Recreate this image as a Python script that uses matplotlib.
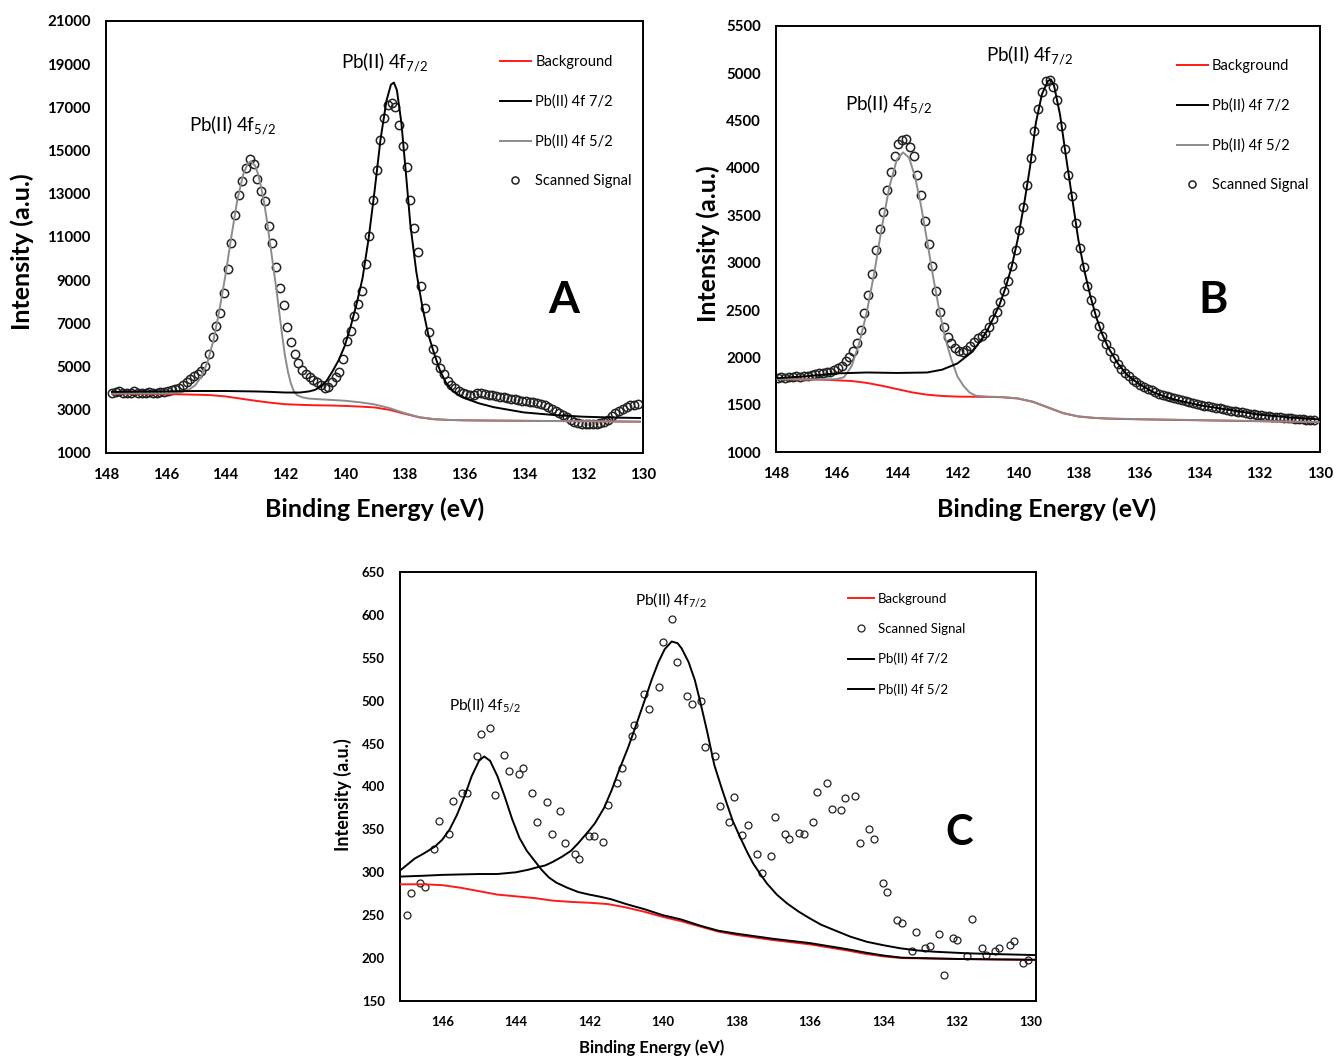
import matplotlib
matplotlib.use("Agg")
import matplotlib.pyplot as plt
import numpy as np

plt.rcParams['font.family'] = ['Lato', 'DejaVu Sans']
plt.rcParams['mathtext.default'] = 'regular'

RED = '#ff1a1a'
GRAY = '#8c8c8c'

# ---------------- panel A ----------------
energy_a = np.round(np.arange(147.8, 130.1, -0.125), 3)
signal_a = [3780, 3820, 3850, 3790, 3770, 3800, 3850, 3780, 3760, 3790,
            3820, 3800, 3780, 3810, 3840, 3870, 3900, 3950, 4030, 4150,
            4300, 4420, 4550, 4680, 4800, 5050, 5600, 6350, 6900, 7500,
            8400, 9500, 10700, 12000, 12950, 13600, 14200, 14600, 14400, 13700,
            13150, 12650, 11500, 10700, 9600, 8650, 7850, 6850, 6150, 5600,
            5150, 4850, 4650, 4500, 4380, 4300, 4150, 4000, 4050, 4300,
            4500, 4750, 5350, 6200, 6650, 7350, 7900, 8500, 9750, 11050,
            12700, 14100, 15500, 16500, 17100, 17200, 17000, 16200, 15200, 14250,
            12700, 11400, 10300, 8750, 7700, 6600, 5800, 5300, 4950, 4650,
            4350, 4150, 4000, 3880, 3780, 3720, 3680, 3700, 3760, 3780,
            3740, 3700, 3680, 3650, 3610, 3580, 3550, 3520, 3500, 3460,
            3430, 3400, 3380, 3350, 3300, 3250, 3200, 3120, 3050, 2950,
            2850, 2750, 2650, 2550, 2450, 2400, 2350, 2330, 2320, 2330,
            2350, 2380, 2450, 2550, 2700, 2850, 2950, 3050, 3150, 3200,
            3230, 3250]

bg_a_e = [147.8, 146, 145, 144.5, 144, 143.5, 143, 142.5, 142, 141.5, 141, 140.5,
          140, 139.5, 139, 138.5, 138, 137.5, 137, 136.5, 136, 134, 132, 130.1]
bg_a = [3750, 3730, 3700, 3680, 3620, 3520, 3420, 3330, 3260, 3230, 3210, 3200,
        3180, 3150, 3110, 3000, 2820, 2650, 2560, 2530, 2510, 2490, 2470, 2450]

p72_a_e = [147.8, 146, 145, 144, 143, 142.5, 142, 141.5, 141.2, 141.0, 140.8, 140.6,
           140.4, 140.2, 140.0, 139.8, 139.6, 139.4, 139.2, 139.0, 138.8, 138.6,
           138.45, 138.35, 138.25, 138.1, 137.95, 137.8, 137.6, 137.4, 137.2, 137.0,
           136.8, 136.6, 136.4, 136.2, 136.0, 135.5, 135, 134.5, 134, 133, 132, 131, 130.1]
p72_a = [3830, 3850, 3870, 3870, 3850, 3830, 3800, 3800, 3850, 3920, 4080, 4350,
         4800, 5300, 5950, 6850, 7900, 9100, 10900, 13100, 15500, 17300,
         18050, 18150, 17800, 16300, 14000, 11600, 9400, 7800, 6500, 5600,
         4800, 4250, 3900, 3700, 3550, 3300, 3120, 3000, 2880, 2760, 2680, 2640, 2620]

p52_a_e = [147.8, 146, 145.5, 145.2, 145.0, 144.8, 144.6, 144.4, 144.2, 144.0, 143.8,
           143.6, 143.4, 143.25, 143.15, 143.0, 142.9, 142.8, 142.7, 142.6, 142.5, 142.4,
           142.3, 142.2, 142.1, 142.0, 141.9, 141.8, 141.7, 141.6, 141.4, 141.2, 141.0,
           140.0, 139.5, 139.0, 138.5, 138.0, 137.5, 137.0, 136.5, 135, 133, 131, 130.1]
p52_a = [3760, 3760, 3800, 3950, 4150, 4550, 5200, 6200, 7600, 9200, 11000,
         12700, 13900, 14400, 14500, 14300, 13900, 13300, 12600, 11700, 10700, 9700,
         8700, 7600, 6500, 5500, 4750, 4200, 3850, 3680, 3570, 3520, 3500,
         3420, 3350, 3250, 3080, 2850, 2660, 2570, 2530, 2500, 2480, 2460, 2450]

# ---------------- panel B ----------------
energy_b = np.round(np.arange(147.95, 130.15, -0.125), 3)
signal_b = [1780, 1790, 1785, 1795, 1790, 1800, 1795, 1805, 1800, 1810,
            1820, 1830, 1835, 1845, 1850, 1865, 1885, 1910, 1960, 2000,
            2065, 2150, 2290, 2470, 2660, 2880, 3130, 3360, 3540, 3770,
            3960, 4130, 4250, 4300, 4310, 4220, 4130, 3930, 3720, 3440,
            3200, 2970, 2700, 2480, 2320, 2215, 2150, 2095, 2068, 2060,
            2075, 2115, 2165, 2205, 2225, 2260, 2320, 2410, 2480, 2580,
            2700, 2810, 2960, 3130, 3350, 3590, 3820, 4110, 4390, 4620,
            4800, 4915, 4930, 4860, 4720, 4440, 4200, 3930, 3700, 3420,
            3150, 2950, 2750, 2610, 2470, 2330, 2230, 2140, 2070, 1995,
            1930, 1880, 1835, 1800, 1765, 1735, 1710, 1690, 1670, 1650,
            1635, 1615, 1600, 1590, 1578, 1568, 1556, 1545, 1535, 1525,
            1515, 1505, 1498, 1490, 1482, 1475, 1468, 1460, 1452, 1445,
            1438, 1430, 1424, 1418, 1412, 1405, 1400, 1395, 1390, 1385,
            1380, 1375, 1370, 1366, 1362, 1358, 1355, 1352, 1348, 1345,
            1343, 1340, 1338]

bg_b_e = [147.95, 146.5, 145.5, 145, 144.5, 144, 143.5, 143, 142.5, 142, 141, 140.5,
          140, 139.5, 139, 138.5, 138, 137.5, 137, 136, 134, 132, 130.05]
bg_b = [1770, 1765, 1750, 1730, 1700, 1665, 1630, 1605, 1592, 1585, 1582, 1578,
        1565, 1530, 1470, 1410, 1375, 1360, 1352, 1345, 1335, 1325, 1315]

p72_b_e = [147.95, 147, 146, 145, 144, 143, 142.5, 142, 141.5, 141.2, 141, 140.8,
           140.6, 140.4, 140.2, 140.0, 139.8, 139.6, 139.4, 139.2, 139.0, 138.9,
           138.8, 138.6, 138.4, 138.2, 138.0, 137.8, 137.6, 137.4, 137.2, 137.0,
           136.7, 136.4, 136, 135.5, 135, 134.5, 134, 133, 132, 131, 130.05]
p72_b = [1780, 1800, 1830, 1840, 1835, 1840, 1870, 1935, 2060, 2190, 2290, 2420,
         2560, 2740, 2960, 3250, 3600, 4000, 4480, 4780, 4920, 4935,
         4870, 4560, 4110, 3680, 3250, 2920, 2650, 2420, 2240, 2100,
         1940, 1820, 1720, 1630, 1570, 1530, 1495, 1445, 1395, 1365, 1345]

p52_b_e = [147.95, 146.5, 146.0, 145.75, 145.5, 145.25, 145.0, 144.75, 144.5, 144.25,
           144.0, 143.8, 143.6, 143.4, 143.2, 143.0, 142.8, 142.6, 142.4, 142.2,
           142.0, 141.8, 141.6, 141.4, 141.0, 140.5, 140, 139.5, 139, 138.5,
           138, 137.5, 137, 136, 134, 132, 130.05]
p52_b = [1770, 1765, 1770, 1790, 1905, 2145, 2470, 2890, 3370, 3800,
         4090, 4165, 4110, 3910, 3600, 3230, 2850, 2500, 2200, 1980,
         1800, 1700, 1630, 1595, 1585, 1580, 1567, 1532, 1472, 1412,
         1377, 1362, 1354, 1347, 1337, 1327, 1317]

# ---------------- panel C ----------------
energy_c = [146.97, 146.85, 146.61, 146.47, 146.22, 146.09, 145.82, 145.7, 145.47, 145.34,
            145.06, 144.95, 144.69, 144.57, 144.31, 144.18, 143.91, 143.8, 143.55, 143.42,
            143.16, 143.02, 142.8, 142.66, 142.39, 142.27, 142.0, 141.86, 141.63, 141.5,
            141.25, 141.12, 140.85, 140.78, 140.5, 140.37, 140.11, 139.99, 139.74, 139.61,
            139.34, 139.22, 138.96, 138.85, 138.58, 138.45, 138.19, 138.06, 137.84, 137.69,
            137.43, 137.29, 137.05, 136.94, 136.68, 136.56, 136.3, 136.16, 135.92, 135.8,
            135.54, 135.41, 135.15, 135.04, 134.78, 134.65, 134.39, 134.26, 134.02, 133.89,
            133.62, 133.5, 133.23, 133.12, 132.87, 132.73, 132.48, 132.35, 132.11, 131.99,
            131.72, 131.59, 131.33, 131.22, 130.96, 130.85, 130.57, 130.45, 130.21, 130.08]
signal_c = [250, 276, 288, 283, 327, 360, 345, 383, 392, 393,
            436, 461, 468, 390, 437, 418, 414, 422, 393, 359,
            382, 345, 372, 334, 321, 316, 342, 342, 335, 379,
            404, 422, 459, 472, 508, 490, 516, 568, 595, 545,
            506, 496, 500, 446, 436, 377, 359, 388, 344, 355,
            321, 299, 319, 365, 345, 339, 346, 345, 359, 394,
            404, 374, 373, 387, 389, 334, 351, 339, 287, 277,
            244, 241, 208, 230, 212, 214, 228, 180, 223, 221,
            202, 246, 212, 204, 208, 212, 215, 220, 194, 198]

bg_c_e = [147.15, 146.5, 146, 145.5, 145, 144.5, 144, 143.5, 143, 142.5, 142, 141.5,
          141, 140.5, 140, 139.5, 139, 138.5, 138, 137.5, 137, 136.5, 136, 135.5,
          135, 134.5, 134, 133.5, 132, 131, 129.85]
bg_c = [286, 286, 285, 282, 278, 274, 272, 270, 267, 265.5, 264.5, 263,
        259, 254, 248, 243, 237, 231, 227, 224, 221, 218.5, 216, 212.5,
        209, 205, 202, 200, 199, 198.5, 198]

p72_c_e = [147.15, 146.5, 146, 145, 144.5, 144, 143.66, 143.4, 143.2, 143.0, 142.75,
           142.5, 142.3, 142.0, 141.85, 141.6, 141.39, 141.2, 140.94, 140.7, 140.49,
           140.3, 140.12, 139.95, 139.76, 139.6, 139.49, 139.3, 139.13, 138.99, 138.8,
           138.6, 138.4, 138.26, 138.1, 137.9, 137.7, 137.54, 137.35, 137.17, 136.9,
           136.63, 136.3, 135.99, 135.7, 135.36, 134.9, 134.45, 134.0, 133.55, 133.1,
           132.64, 131.73, 130.8, 129.85]
p72_c = [295, 296, 297, 298, 298, 300, 303, 306, 308, 312, 318,
         325, 334, 349, 357, 375, 396, 418, 446, 475, 501,
         525, 545, 560, 569, 567, 561, 545, 524, 500, 465,
         425, 398, 380, 360, 341, 323, 310, 298, 287, 274,
         264, 254, 246, 239, 233, 225, 219, 215, 211.5, 209,
         207.5, 205.6, 204.5, 203.5]

p52_c_e = [147.15, 146.75, 146.5, 146.2, 146, 145.8, 145.6, 145.4, 145.2, 145.0, 144.86,
           144.7, 144.5, 144.3, 144.1, 143.9, 143.7, 143.5, 143.3, 143.1, 142.9, 142.6,
           142.3, 142.0, 141.7, 141.4, 141.0, 140.5, 140.0, 139.5, 139.0, 138.5, 138.0,
           137.5, 137, 136.5, 136, 135.5, 135, 134.5, 134, 133.5, 132, 131, 129.85]
p52_c = [302, 316, 322, 330, 338, 350, 367, 388, 412, 430, 435,
         430, 412, 388, 362, 340, 325, 314, 303, 294, 288, 282,
         277, 274, 271.5, 268.5, 263, 257, 250, 245, 238, 232, 228.5,
         225.5, 222.5, 220, 217.5, 214, 210.5, 206.5, 203, 200.5, 199, 198.5, 198]


def style_axes(ax, xlim, ylim, yticks, xticks, fs):
    ax.set_xlim(*xlim)
    ax.set_ylim(*ylim)
    ax.set_xticks(xticks)
    ax.set_yticks(yticks)
    ax.tick_params(length=0, labelsize=fs, pad=11)
    plt.setp(ax.get_xticklabels() + ax.get_yticklabels(), fontweight='bold')
    for s in ax.spines.values():
        s.set_linewidth(1.4)


fig = plt.figure(figsize=(13.34, 10.59), dpi=100)

# panel A
axA = fig.add_axes([0.07946, 0.57224, 0.40255, 0.40793])
sA, = axA.plot(energy_a, signal_a, 'o', mfc='none', mec='#222222', ms=6, mew=1.1,
               label='Scanned Signal', zorder=2)
bA, = axA.plot(bg_a_e, bg_a, color=RED, lw=1.4, label='Background', zorder=3)
gA, = axA.plot(p52_a_e, p52_a, color=GRAY, lw=1.4, label='Pb(II) 4f 5/2', zorder=3)
kA, = axA.plot(p72_a_e, p72_a, color='black', lw=1.4, label='Pb(II) 4f 7/2', zorder=4)
style_axes(axA, (148, 130), (1000, 21000), np.arange(1000, 21001, 2000),
           np.arange(148, 129, -2), 10.8)
axA.legend(handles=[bA, kA, gA, sA], loc='upper left', bbox_to_anchor=(0.734, 0.921),
           frameon=False, fontsize=10.5, labelspacing=1.75, handlelength=2.1,
           handletextpad=0.3, borderpad=0, borderaxespad=0, numpoints=1, markerscale=0.85)
axA.text(0.235, 0.759, 'Pb(II) 4f$_{5/2}$', transform=axA.transAxes, fontsize=13.5,
         ha='center', va='center')
axA.text(0.518, 0.905, 'Pb(II) 4f$_{7/2}$', transform=axA.transAxes, fontsize=13.5,
         ha='center', va='center')
axA.text(0.853, 0.354, 'A', transform=axA.transAxes, fontsize=32, fontweight='bold',
         ha='center', va='center')
axA.set_ylabel('Intensity (a.u.)', fontsize=18, fontweight='bold')
axA.set_xlabel('Binding Energy (eV)', fontsize=18, fontweight='bold')
axA.yaxis.set_label_coords(-0.134, 0.465)
axA.xaxis.set_label_coords(0.5, -0.102)

# panel B
axB = fig.add_axes([0.58171, 0.57318, 0.40780, 0.40227])
sB, = axB.plot(energy_b, signal_b, 'o', mfc='none', mec='#222222', ms=6, mew=1.1,
               label='Scanned Signal', zorder=2)
bB, = axB.plot(bg_b_e, bg_b, color=RED, lw=1.4, label='Background', zorder=3)
gB, = axB.plot(p52_b_e, p52_b, color=GRAY, lw=1.4, label='Pb(II) 4f 5/2', zorder=3)
kB, = axB.plot(p72_b_e, p72_b, color='black', lw=1.4, label='Pb(II) 4f 7/2', zorder=4)
style_axes(axB, (148, 130), (1000, 5500), np.arange(1000, 5501, 500),
           np.arange(148, 129, -2), 10.8)
axB.legend(handles=[bB, kB, gB, sB], loc='upper left', bbox_to_anchor=(0.737, 0.9225),
           frameon=False, fontsize=10.5, labelspacing=1.75, handlelength=2.1,
           handletextpad=0.3, borderpad=0, borderaxespad=0, numpoints=1, markerscale=0.85)
axB.text(0.206, 0.815, 'Pb(II) 4f$_{5/2}$', transform=axB.transAxes, fontsize=13.5,
         ha='center', va='center')
axB.text(0.467, 0.932, 'Pb(II) 4f$_{7/2}$', transform=axB.transAxes, fontsize=13.5,
         ha='center', va='center')
axB.text(0.803, 0.357, 'B', transform=axB.transAxes, fontsize=32, fontweight='bold',
         ha='center', va='center')
axB.set_ylabel('Intensity (a.u.)', fontsize=18, fontweight='bold')
axB.set_xlabel('Binding Energy (eV)', fontsize=18, fontweight='bold')
axB.yaxis.set_label_coords(-0.103, 0.49)
axB.xaxis.set_label_coords(0.498, -0.106)

# panel C
axC = fig.add_axes([0.29985, 0.05477, 0.47676, 0.40510])
sC, = axC.plot(energy_c, signal_c, 'o', mfc='none', mec='#222222', ms=5, mew=0.9,
               label='Scanned Signal', zorder=2)
bC, = axC.plot(bg_c_e, bg_c, color=RED, lw=1.4, label='Background', zorder=3)
gC, = axC.plot(p52_c_e, p52_c, color='black', lw=1.4, label='Pb(II) 4f 5/2', zorder=4)
kC, = axC.plot(p72_c_e, p72_c, color='black', lw=1.4, label='Pb(II) 4f 7/2', zorder=4)
style_axes(axC, (147.15, 129.85), (150, 650), np.arange(150, 651, 50),
           np.arange(146, 129, -2), 9.5)
axC.legend(handles=[bC, sC, kC, gC], loc='upper left', bbox_to_anchor=(0.704, 0.951),
           frameon=False, fontsize=9.5, labelspacing=1.35, handlelength=2.0,
           handletextpad=0.3, borderpad=0, borderaxespad=0, numpoints=1)
axC.text(0.134, 0.69, 'Pb(II) 4f$_{5/2}$', transform=axC.transAxes, fontsize=11.2,
         ha='center', va='center')
axC.text(0.426, 0.935, 'Pb(II) 4f$_{7/2}$', transform=axC.transAxes, fontsize=11.2,
         ha='center', va='center')
axC.text(0.879, 0.392, 'C', transform=axC.transAxes, fontsize=30, fontweight='bold',
         ha='center', va='center')
axC.set_ylabel('Intensity (a.u.)', fontsize=13, fontweight='bold')
axC.set_xlabel('Binding Energy (eV)', fontsize=12, fontweight='bold')
axC.yaxis.set_label_coords(-0.075, 0.48)
axC.xaxis.set_label_coords(0.396, -0.09)

fig.savefig('out.png', dpi=100)
